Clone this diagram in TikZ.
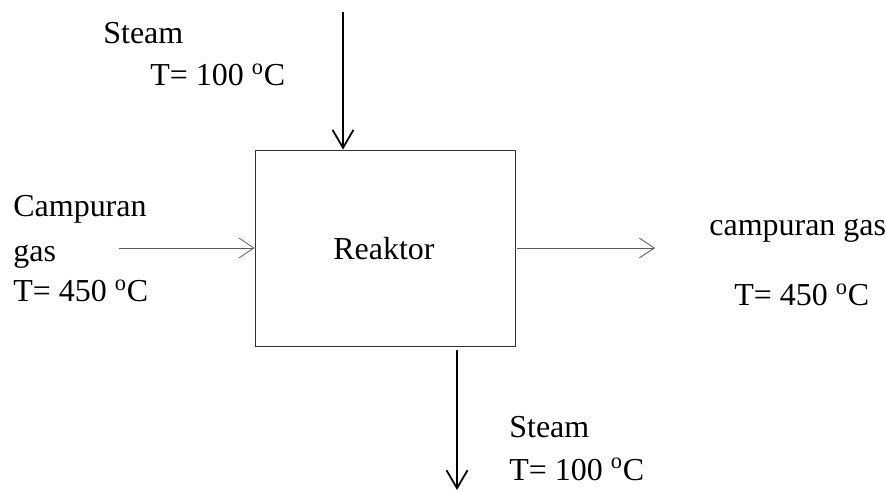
\documentclass[tikz,border=0pt]{standalone}
\usepackage{fontspec}
\setmainfont{Liberation Serif}
\usepackage{tikz}
\usetikzlibrary{arrows.meta,positioning}
\newcommand{\degC}{\textsuperscript{o}C}

\begin{document}
\begin{tikzpicture}[>={Straight Barb[length=3.6mm,width=4.2mm]},
    every node/.style={font=\fontsize{18.2}{22}\selectfont},
    lbl/.style={anchor=base west, inner sep=0pt},
    feed/.style={->, black!65, line width=0.45pt, >={Straight Barb[length=3mm,width=4mm]}},
    steamline/.style={->, black, line width=1pt}]
  \useasboundingbox (0,0) rectangle (17.72,9.84);

  % ---- Reactor block ----
  \node[draw=black!80, line width=0.5pt, minimum width=5.2cm, minimum height=3.92cm,
        inner sep=0pt] (reaktor) at (7.70,4.88) {};
  \node[lbl] (reaktorlbl) at (6.66,4.64) {Reaktor};

  % ---- Steam in (top) ----
  \coordinate (steamin) at (6.86,9.60);
  \node[lbl] (steaminname) at (2.06,8.96) {Steam};
  \node[lbl] (steamintemp) at (3.00,8.12) {T= 100 \degC};
  \draw[steamline] (steamin) -- (steamin |- reaktor.north);

  % ---- Gas mixture in (left) ----
  \coordinate (gasin) at (2.38,4.88);
  \node[lbl] (gasinname) at (0.26,5.50) {Campuran};
  \node[lbl] (gasinname2) at (0.26,4.60) {gas};
  \node[lbl] (gasintemp) at (0.26,3.80) {T= 450 \degC};
  \draw[feed] (gasin) -- (reaktor.west);

  % ---- Gas mixture out (right) ----
  \coordinate (gasout) at (13.10,4.88);
  \node[lbl] (gasoutname) at (14.18,5.12) {campuran gas};
  \node[lbl] (gasouttemp) at (14.68,3.72) {T= 450 \degC};
  \draw[feed, shorten <=0.04cm] (reaktor.east) -- (gasout);

  % ---- Steam out (bottom) ----
  \coordinate (steamout) at (9.14,0.04);
  \node[lbl] (steamoutname) at (10.18,1.08) {Steam};
  \node[lbl] (steamouttemp) at (10.18,0.24) {T= 100 \degC};
  \draw[steamline, shorten <=0.08cm] (steamout |- reaktor.south) -- (steamout);
\end{tikzpicture}
\end{document}
